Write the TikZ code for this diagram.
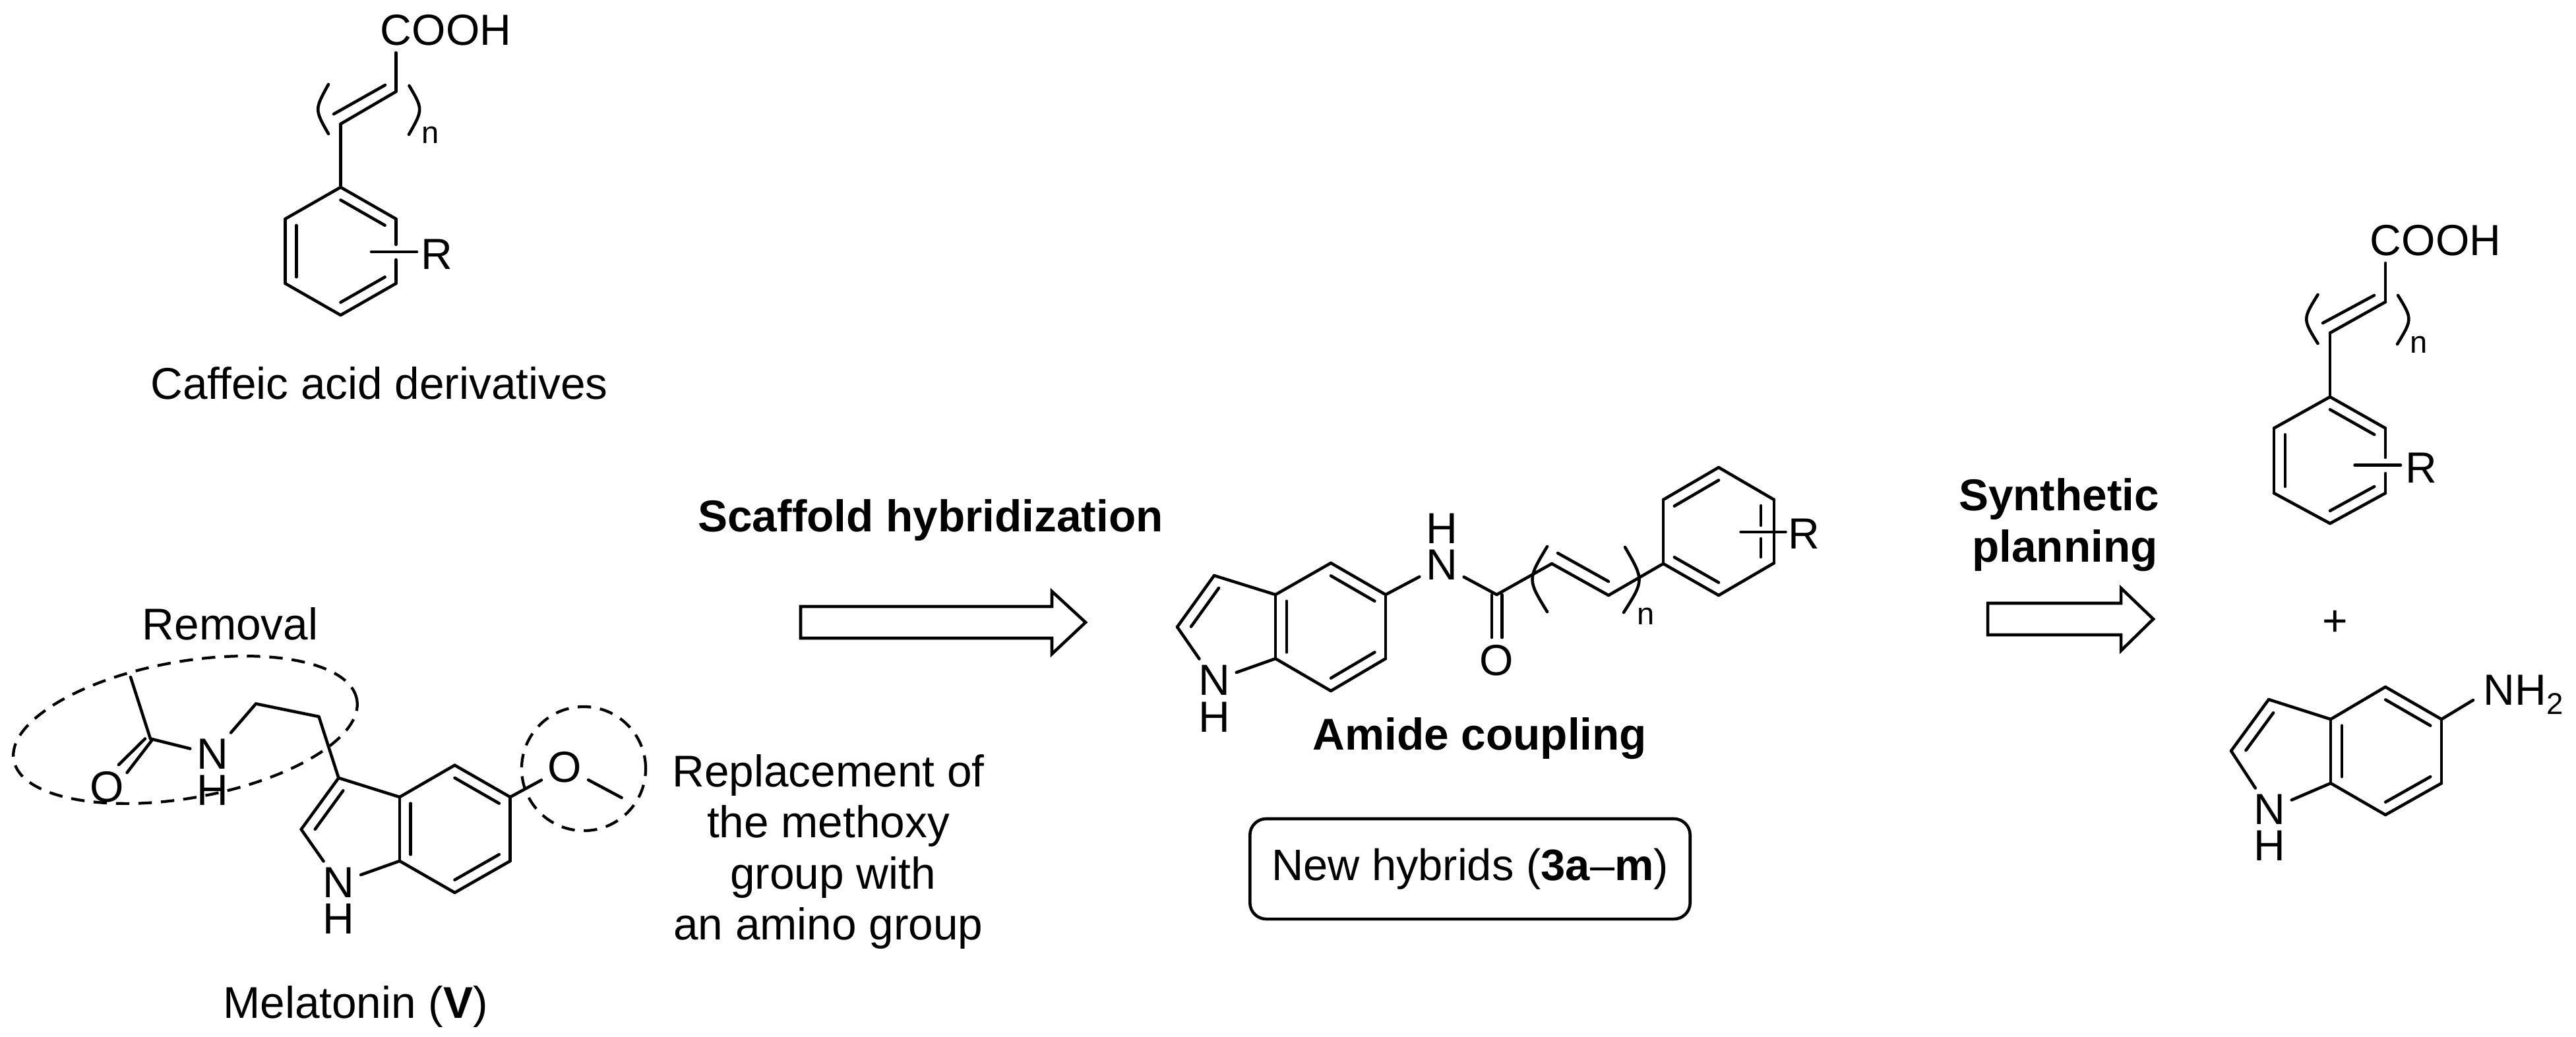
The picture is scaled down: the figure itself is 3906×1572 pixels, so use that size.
\documentclass[tikz,border=0pt]{standalone}
\usepackage{fontspec}
\setmainfont{Liberation Sans}
\usepackage{tikz}
\usetikzlibrary{calc}
\usetikzlibrary{shapes.geometric}

\tikzset{
    bond/.style={line width=1.3pt, line cap=round},
    atom/.style={font=\fontsize{18.8}{22}\selectfont, inner sep=2.6pt},
    idx/.style={font=\fontsize{13.4}{15}\selectfont, inner sep=0pt},
    caption/.style={font=\fontsize{19.2}{22}\selectfont, anchor=base, inner sep=0pt},
    head/.style={font=\fontsize{19.2}{22}\selectfont\bfseries, anchor=base, inner sep=0pt},
    zone/.style={draw, line width=1.2pt, dash pattern=on 5.8pt off 3.9pt, inner sep=0pt},
    hollow/.style={draw, line width=1.3pt, line join=miter},
}

\begin{document}
\begin{tikzpicture}[x=0.01cm, y=-0.01cm]
        \useasboundingbox (0, 0) rectangle (3906, 1572);

        % Caffeic acid derivatives
        \node[atom] (aCOOH) at (676, 46) {COOH};
        \node[atom] (aR) at (662, 386) {R};
        \node[idx] (an) at (653, 205) {n};
        \node[caption] (acap) at (575, 605) {Caffeic acid derivatives};
        \coordinate (a1) at (516.5, 284);
        \coordinate (a2) at (600.4, 332);
        \coordinate (a3) at (600.4, 430);
        \coordinate (a4) at (516.5, 478);
        \coordinate (a5) at (432.6, 430);
        \coordinate (a6) at (432.6, 332);
        \coordinate (ac) at (516.5, 381);
        \coordinate (av1) at (516.5, 188);
        \coordinate (av2) at (600.4, 139);
        \coordinate (at) at (600.4, 80);
        \coordinate (ag1) at (600.4, 371);
        \coordinate (ag2) at (600.4, 394);
        \coordinate (aR1) at (563, 382);
        \coordinate (aR2) at (632, 382);
        \coordinate (ai1) at (506, 173);
        \coordinate (ai2) at (584, 129);

        \draw[bond] (a1) -- (a2);
        \draw[bond] (a2) -- (ag1);
        \draw[bond] (ag2) -- (a3);
        \draw[bond] (a3) -- (a4);
        \draw[bond] (a4) -- (a5);
        \draw[bond] (a5) -- (a6);
        \draw[bond] (a6) -- (a1);
        \draw[bond] ($(a1)!0.2!(ac)$) -- ($(a2)!0.2!(ac)$);
        \draw[bond] ($(a3)!0.2!(ac)$) -- ($(a4)!0.2!(ac)$);
        \draw[bond] ($(a5)!0.2!(ac)$) -- ($(a6)!0.2!(ac)$);
        \draw[bond] (aR1) -- (aR2);
        \draw[bond] (a1) -- (av1);
        \draw[bond] (av1) -- (av2);
        \draw[bond] (ai1) -- (ai2);
        \draw[bond] (av2) -- (at);
        \draw[bond] (498, 128) .. controls (477, 166) .. (498, 203);
        \draw[bond] (620.5, 130) .. controls (641.5, 166) .. (620, 204);

        % Melatonin
        \node[atom] (mN) at (322, 1144) {N};
        \node[atom] (mH) at (322, 1199) {H};
        \node[atom] (mO) at (162.6, 1194) {O};
        \node[atom] (mN1) at (513.4, 1339) {N};
        \node[atom] (mH1) at (513.4, 1394) {H};
        \node[atom] (mOMe) at (856.5, 1164) {O};
        \node[caption] (rem) at (349, 970) {Removal};
        \node[caption] (mcap) at (539, 1544) {Melatonin (\textbf{V})};
        \node[caption, anchor=center, align=center] (repl) at (1256, 1292)
            {Replacement of\\the methoxy\\\hspace*{4pt}group with\\an amino group};
        \coordinate (m1) at (198, 1027);
        \coordinate (m2) at (228, 1120.5);
        \coordinate (m3) at (388, 1067.5);
        \coordinate (m4) at (483.5, 1087);
        \coordinate (m5) at (513.4, 1180);
        \coordinate (m6) at (456.7, 1258);
        \coordinate (m7) at (606, 1209);
        \coordinate (m8) at (689.5, 1160.7);
        \coordinate (m9) at (773.6, 1209);
        \coordinate (m10) at (773.6, 1306);
        \coordinate (m11) at (689.5, 1354);
        \coordinate (m12) at (606, 1306);
        \coordinate (mc) at (689.5, 1257);
        \coordinate (mp) at (541, 1257);
        \coordinate (mMe) at (942.6, 1210);
        \coordinate (mO1) at (220, 1120.5);
        \coordinate (mO2) at (180, 1160);
        \coordinate (mO3) at (231, 1122);
        \coordinate (mO4) at (192.6, 1172);

        \draw[bond] (m1) -- (m2);
        \draw[bond] (mO1) -- (mO2);
        \draw[bond] (mO3) -- (mO4);
        \draw[bond] (m2) -- (mN);
        \draw[bond] (mN) -- (m3);
        \draw[bond] (m3) -- (m4);
        \draw[bond] (m4) -- (m5);
        \draw[bond] (m5) -- (m6);
        \draw[bond] (m6) -- (mN1);
        \draw[bond] (mN1) -- (m12);
        \draw[bond] (m5) -- (m7);
        \draw[bond] (m7) -- (m8);
        \draw[bond] (m8) -- (m9);
        \draw[bond] (m9) -- (m10);
        \draw[bond] (m10) -- (m11);
        \draw[bond] (m11) -- (m12);
        \draw[bond] (m12) -- (m7);
        \draw[bond] ($(m5)!0.25!(mp)$) -- ($(m6)!0.25!(mp)$);
        \draw[bond] ($(m7)!0.2!(mc)$) -- ($(m12)!0.2!(mc)$);
        \draw[bond] ($(m8)!0.2!(mc)$) -- ($(m9)!0.2!(mc)$);
        \draw[bond] ($(m10)!0.2!(mc)$) -- ($(m11)!0.2!(mc)$);
        \draw[bond] (m9) -- (mOMe);
        \draw[bond] (mOMe) -- (mMe);
        \node[zone, ellipse, minimum width=5.28cm, minimum height=2.07cm, rotate=10] (zone1) at (281, 1107) {};
        \node[zone, circle, minimum size=1.88cm] (zone2) at (885, 1166) {};

        % Scaffold hybridization
        \node[head] (scaf) at (1411, 806) {Scaffold hybridization};
        \coordinate (s1) at (1214, 920);
        \coordinate (s2) at (1595, 920);
        \coordinate (s3) at (1595, 897);
        \coordinate (s4) at (1646, 944);
        \coordinate (s5) at (1595, 992);
        \coordinate (s6) at (1595, 968);
        \coordinate (s7) at (1214, 968);
        \draw[hollow] (s1) -- (s2) -- (s3) -- (s4) -- (s5) -- (s6) -- (s7) -- cycle;

        % New hybrids
        \node[atom] (hN1) at (1841, 1032) {N};
        \node[atom] (hH1) at (1841, 1088) {H};
        \node[atom] (hN) at (2186, 857) {N};
        \node[atom] (hH) at (2186, 802) {H};
        \node[atom] (hO) at (2269, 1002) {O};
        \node[atom] (hR) at (2735.6, 810) {R};
        \node[idx] (hn) at (2496, 935) {n};
        \node[head] (amide) at (2244, 1137) {Amide coupling};
        \node[draw, line width=1.3pt, rounded corners=7pt, minimum width=6.67cm, minimum height=1.52cm, inner sep=0pt,
            font=\fontsize{19}{22}\selectfont] (box) at (2229, 1318) {New hybrids (\textbf{3a}--\textbf{m})};
        \coordinate (h1) at (1841, 873);
        \coordinate (h2) at (1785, 951);
        \coordinate (h3) at (1934, 902);
        \coordinate (h4) at (2018, 854);
        \coordinate (h5) at (2101, 902);
        \coordinate (h6) at (2101, 999);
        \coordinate (h7) at (2018, 1048);
        \coordinate (h8) at (1934, 999);
        \coordinate (hc) at (2018, 951);
        \coordinate (hp) at (1869, 949);
        \coordinate (h9) at (2269.5, 902);
        \coordinate (h10) at (2353, 855);
        \coordinate (h11) at (2439, 903);
        \coordinate (b1) at (2522, 855);
        \coordinate (b2) at (2522, 758);
        \coordinate (b3) at (2606, 709);
        \coordinate (b4) at (2690, 758);
        \coordinate (b5) at (2690, 854);
        \coordinate (b6) at (2606, 903);
        \coordinate (bc) at (2606, 806);
        \coordinate (hO1) at (2262, 902);
        \coordinate (hO2) at (2262, 967);
        \coordinate (hO3) at (2277.5, 902);
        \coordinate (hO4) at (2277.5, 967);
        \coordinate (hi1) at (2362, 839);
        \coordinate (hi2) at (2439, 882);
        \coordinate (bg1) at (2670, 767);
        \coordinate (bg2) at (2670, 797);
        \coordinate (bg3) at (2670, 817);
        \coordinate (bg4) at (2670, 845);
        \coordinate (hR1) at (2639.5, 807);
        \coordinate (hR2) at (2707.5, 807);

        \draw[bond] (h1) -- (h2);
        \draw[bond] (h2) -- (hN1);
        \draw[bond] (hN1) -- (h8);
        \draw[bond] (h1) -- (h3);
        \draw[bond] (h3) -- (h4);
        \draw[bond] (h4) -- (h5);
        \draw[bond] (h5) -- (h6);
        \draw[bond] (h6) -- (h7);
        \draw[bond] (h7) -- (h8);
        \draw[bond] (h8) -- (h3);
        \draw[bond] ($(h1)!0.25!(hp)$) -- ($(h2)!0.25!(hp)$);
        \draw[bond] ($(h3)!0.2!(hc)$) -- ($(h8)!0.2!(hc)$);
        \draw[bond] ($(h4)!0.2!(hc)$) -- ($(h5)!0.2!(hc)$);
        \draw[bond] ($(h6)!0.2!(hc)$) -- ($(h7)!0.2!(hc)$);
        \draw[bond] (h5) -- (hN);
        \draw[bond] (hN) -- (h9);
        \draw[bond] (hO1) -- (hO2);
        \draw[bond] (hO3) -- (hO4);
        \draw[bond] (h9) -- (h10);
        \draw[bond] (h10) -- (h11);
        \draw[bond] (hi1) -- (hi2);
        \draw[bond] (h11) -- (b1);
        \draw[bond] (b1) -- (b2);
        \draw[bond] (b2) -- (b3);
        \draw[bond] (b3) -- (b4);
        \draw[bond] (b4) -- (b5);
        \draw[bond] (b5) -- (b6);
        \draw[bond] (b6) -- (b1);
        \draw[bond] ($(b2)!0.2!(bc)$) -- ($(b3)!0.2!(bc)$);
        \draw[bond] ($(b6)!0.2!(bc)$) -- ($(b1)!0.2!(bc)$);
        \draw[bond] (bg1) -- (bg2);
        \draw[bond] (bg3) -- (bg4);
        \draw[bond] (hR1) -- (hR2);
        \draw[bond] (2346, 829) .. controls (2316, 879) .. (2346, 928);
        \draw[bond] (2464, 830) .. controls (2493, 880) .. (2462, 929);

        % Synthetic planning
        \node[head, anchor=center, align=center] (plan) at (3122, 796)
            {Synthetic\\\hspace*{5pt}planning};
        \coordinate (t1) at (3014, 915);
        \coordinate (t2) at (3216, 915);
        \coordinate (t3) at (3216, 892);
        \coordinate (t4) at (3265, 939);
        \coordinate (t5) at (3216, 987);
        \coordinate (t6) at (3216, 963);
        \coordinate (t7) at (3014, 963);
        \draw[hollow] (t1) -- (t2) -- (t3) -- (t4) -- (t5) -- (t6) -- (t7) -- cycle;

        % Acid building block
        \node[atom] (rCOOH) at (3693, 365) {COOH};
        \node[atom] (rR) at (3671, 710) {R};
        \node[idx] (rn) at (3668, 523) {n};
        \coordinate (r1) at (3533, 602);
        \coordinate (r2) at (3617, 649.5);
        \coordinate (r3) at (3617, 748);
        \coordinate (r4) at (3533, 794);
        \coordinate (r5) at (3448, 748);
        \coordinate (r6) at (3448, 649.5);
        \coordinate (rc) at (3533, 698);
        \coordinate (rv1) at (3533, 505);
        \coordinate (rv2) at (3617, 458);
        \coordinate (rt) at (3617, 399);
        \coordinate (rg1) at (3617, 694);
        \coordinate (rg2) at (3617, 718);
        \coordinate (rR1) at (3570.5, 705.6);
        \coordinate (rR2) at (3640, 705.6);
        \coordinate (ri1) at (3522, 490);
        \coordinate (ri2) at (3600, 448);

        \draw[bond] (r1) -- (r2);
        \draw[bond] (r2) -- (rg1);
        \draw[bond] (rg2) -- (r3);
        \draw[bond] (r3) -- (r4);
        \draw[bond] (r4) -- (r5);
        \draw[bond] (r5) -- (r6);
        \draw[bond] (r6) -- (r1);
        \draw[bond] ($(r1)!0.2!(rc)$) -- ($(r2)!0.2!(rc)$);
        \draw[bond] ($(r3)!0.2!(rc)$) -- ($(r4)!0.2!(rc)$);
        \draw[bond] ($(r5)!0.2!(rc)$) -- ($(r6)!0.2!(rc)$);
        \draw[bond] (rR1) -- (rR2);
        \draw[bond] (r1) -- (rv1);
        \draw[bond] (rv1) -- (rv2);
        \draw[bond] (ri1) -- (ri2);
        \draw[bond] (rv2) -- (rt);
        \draw[bond] (3514.5, 447) .. controls (3491.5, 484) .. (3514.5, 521);
        \draw[bond] (3636, 448) .. controls (3658, 484) .. (3635, 522);

        \node[atom] (plus) at (3541, 945) {+};

        % Aminoindole
        \node[atom] (iN) at (3441, 1228) {N};
        \node[atom] (iH) at (3441, 1283) {H};
        \node[atom, anchor=base west, inner sep=0pt] (iNH) at (3765, 1069)
            {NH\raisebox{-4pt}{\fontsize{13}{15}\selectfont 2}};
        \coordinate (i1) at (3440, 1061);
        \coordinate (i2) at (3383, 1139);
        \coordinate (i3) at (3534, 1091);
        \coordinate (i4) at (3617, 1042);
        \coordinate (i5) at (3702, 1091);
        \coordinate (i6) at (3702, 1188);
        \coordinate (i7) at (3617, 1236);
        \coordinate (i8) at (3534, 1188);
        \coordinate (ic) at (3618, 1139);
        \coordinate (ip) at (3466, 1136);
        \coordinate (iNe) at (3750, 1062);

        \draw[bond] (i1) -- (i2);
        \draw[bond] (i2) -- (iN);
        \draw[bond] (iN) -- (i8);
        \draw[bond] (i1) -- (i3);
        \draw[bond] (i3) -- (i4);
        \draw[bond] (i4) -- (i5);
        \draw[bond] (i5) -- (i6);
        \draw[bond] (i6) -- (i7);
        \draw[bond] (i7) -- (i8);
        \draw[bond] (i8) -- (i3);
        \draw[bond] ($(i1)!0.27!(ip)$) -- ($(i2)!0.27!(ip)$);
        \draw[bond] ($(i3)!0.2!(ic)$) -- ($(i8)!0.2!(ic)$);
        \draw[bond] ($(i4)!0.2!(ic)$) -- ($(i5)!0.2!(ic)$);
        \draw[bond] ($(i6)!0.2!(ic)$) -- ($(i7)!0.2!(ic)$);
        \draw[bond] (i5) -- (iNe);
    \end{tikzpicture}
\end{document}
